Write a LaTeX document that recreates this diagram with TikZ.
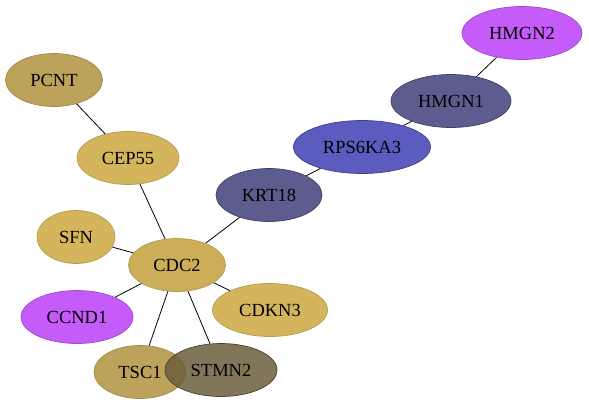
\documentclass[tikz,border=0pt]{standalone}
\usepackage{fontspec}
\setmainfont{Liberation Serif}
\usetikzlibrary{shapes.geometric}
\definecolor{gold}{HTML}{D4B55C}
\definecolor{tan}{HTML}{BCA25A}
\definecolor{violet}{HTML}{C55CF9}
\definecolor{slate}{HTML}{5C5C8E}
\definecolor{royal}{HTML}{5C5CC0}
\definecolor{olive}{HTML}{6B5E3C}
\tikzset{gene/.style={ellipse,inner sep=0pt,line width=0.7pt,font=\fontsize{18.5}{18.5}\selectfont}}

\begin{document}
\begin{tikzpicture}[x=1pt,y=-1pt]
      \useasboundingbox (0,0) rectangle (589,405);
      \node[gene,fill=violet,draw=violet!80!black,minimum width=120,minimum height=53] (hmgn2) at (522,33) {HMGN2};
      \node[gene,fill=slate,draw=slate!70!black,minimum width=120,minimum height=53] (hmgn1) at (451,101) {HMGN1};
      \node[gene,fill=royal,draw=royal!70!black,minimum width=137,minimum height=53] (rps6ka3) at (362,147) {RPS6KA3};
      \node[gene,fill=slate,draw=slate!70!black,minimum width=106,minimum height=53] (krt18) at (269,195) {KRT18};

      \node[gene,fill=tan,draw=tan!85!black,minimum width=97,minimum height=53] (pcnt) at (54,80) {PCNT};
      \node[gene,fill=gold,draw=gold!85!black,minimum width=102,minimum height=53] (cep55) at (128,158) {CEP55};
      \node[gene,fill=gold,draw=gold!85!black,minimum width=78,minimum height=53] (sfn) at (76,237) {SFN};
      \node[gene,fill=gold!96!black,draw=gold!85!black,minimum width=97,minimum height=53] (cdc2) at (177,265) {CDC2};
      \node[gene,fill=gold,draw=gold!85!black,minimum width=115,minimum height=53] (cdkn3) at (270,310) {CDKN3};
      \node[gene,fill=violet,draw=violet!80!black,minimum width=112,minimum height=53] (ccnd1) at (77,317) {CCND1};
      \node[gene,fill=tan,draw=tan!85!black,minimum width=92,minimum height=53] (tsc1) at (140,372) {TSC1};
      \node[gene,fill=olive,fill opacity=0.85,text opacity=1,draw=olive!70!black,minimum width=112,minimum height=53] (stmn2) at (221,370) {STMN2};

      \foreach \from/\to in {pcnt/cep55,cep55/cdc2,sfn/cdc2,cdc2/krt18,krt18/rps6ka3,rps6ka3/hmgn1,hmgn1/hmgn2,cdc2/ccnd1,cdc2/tsc1,cdc2/stmn2,cdc2/cdkn3}
      \draw[line width=0.8pt] (\from)--(\to);
  \end{tikzpicture}
\end{document}
